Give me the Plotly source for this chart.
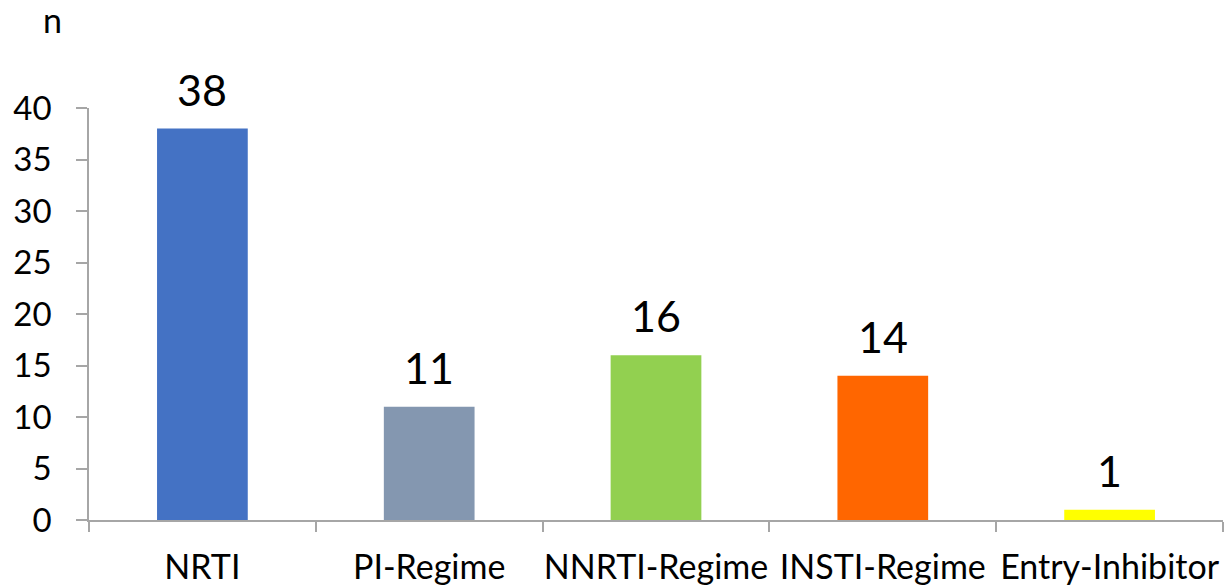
import plotly.graph_objects as go

categories = ["NRTI", "PI-Regime", "NNRTI-Regime", "INSTI-Regime", "Entry-Inhibitor"]
values = [38, 11, 16, 14, 1]
colors = ["#4472C4", "#8497B0", "#92D050", "#FF6600", "#FFFF00"]
y_ticks = [0, 5, 10, 15, 20, 25, 30, 35, 40]

FONT = "Lato"
AXIS = "#A6A6A6"

fig = go.Figure(go.Bar(
    x=categories, y=values, marker_color=colors, marker_line_width=0,
    width=0.4, cliponaxis=False,
))

annotations = [
    dict(x=c, y=v, xref="x", yref="y", text=str(v), showarrow=False,
         xanchor="center", yanchor="bottom", yshift=12,
         font=dict(family=FONT, size=43, color="black"))
    for c, v in zip(categories, values)
]
annotations.append(dict(text="n", xref="paper", yref="paper", x=-0.032, y=1.216,
                        xanchor="center", yanchor="middle", showarrow=False,
                        font=dict(family=FONT, size=34, color="black")))

fig.update_layout(
    width=1230, height=586,
    margin=dict(l=89, r=7, t=108, b=66, autoexpand=False),
    paper_bgcolor="white", plot_bgcolor="white",
    showlegend=False,
    font=dict(family=FONT, color="black"),
    annotations=annotations,
)
fig.update_xaxes(
    type="category", showline=True, linecolor=AXIS, linewidth=1.5,
    ticks="outside", tickson="boundaries", ticklen=10, tickcolor=AXIS, tickwidth=1.5,
    tickfont=dict(family=FONT, size=34, color="black"), ticklabelstandoff=16,
    tickangle=0, showgrid=False, automargin=False,
)
fig.update_yaxes(
    range=[0, 40], tickvals=y_ticks, showline=True, linecolor=AXIS, linewidth=1.5,
    ticks="outside", ticklen=11, tickcolor=AXIS, tickwidth=1.5,
    tickfont=dict(family=FONT, size=33, color="black"), ticklabelstandoff=18,
    showgrid=False, zeroline=False, automargin=False,
)

fig.write_html("out.html", config={"displayModeBar": False},
               post_script="document.body.style.margin='0';")
